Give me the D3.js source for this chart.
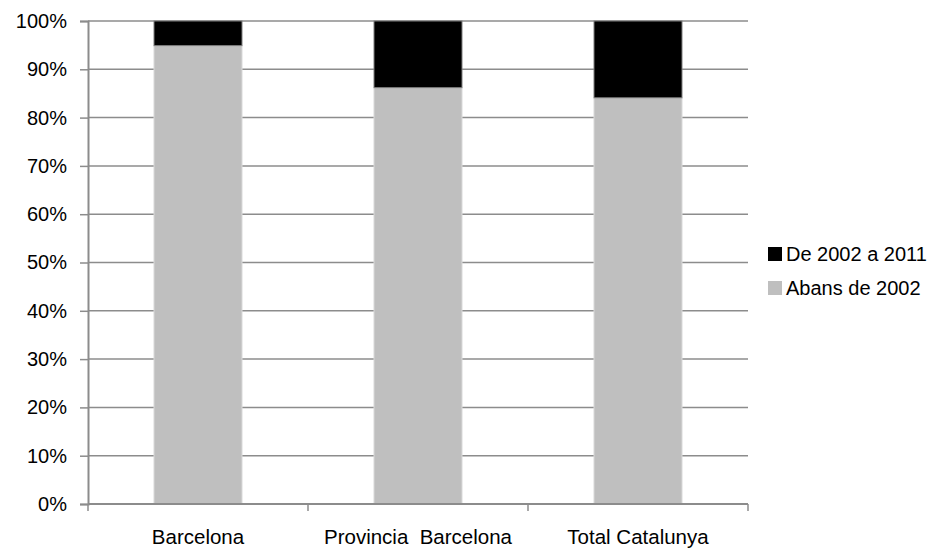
<!DOCTYPE html>
<html>
<head>
<meta charset="utf-8">
<script src="https://cdn.jsdelivr.net/npm/d3@7"></script>
<style>
  body { margin: 0; background: #fff; }
  text { font-family: "Liberation Sans", Arial, sans-serif; fill: #000; }
</style>
</head>
<body>
<div id="chart"></div>
<script>
const width = 934;
const height = 551;
const margin = { top: 21, right: 186, bottom: 47, left: 88 };

// data
const categories = ["Barcelona", "Provincia  Barcelona", "Total Catalunya"];
const abans = [94.9, 86.2, 84.1];
const de2002 = [5.1, 13.8, 15.9];
const seriesNames = ["Abans de 2002", "De 2002 a 2011"];
const seriesColors = ["#bfbfbf", "#000000"];
const yTicks = [0, 10, 20, 30, 40, 50, 60, 70, 80, 90, 100];

const rows = categories.map((c, i) => ({ cat: c, abans: abans[i], de2002: de2002[i] }));
const stack = d3.stack().keys(["abans", "de2002"])(rows);

const svg = d3.select("#chart")
  .append("svg")
  .attr("width", width)
  .attr("height", height);

const xScale = d3.scaleBand()
  .domain(categories)
  .range([margin.left, width - margin.right])
  .paddingInner(0.6)
  .paddingOuter(0.3);

const yScale = d3.scaleLinear()
  .domain([0, 100])
  .range([height - margin.bottom, margin.top]);

// gridlines
svg.append("g")
  .selectAll("line")
  .data(yTicks)
  .join("line")
  .attr("x1", margin.left)
  .attr("x2", width - margin.right)
  .attr("y1", d => yScale(d))
  .attr("y2", d => yScale(d))
  .attr("stroke", "#8c8c8c")
  .attr("stroke-width", 1.5);

// bars
svg.append("g")
  .selectAll("g")
  .data(stack)
  .join("g")
  .attr("fill", (d, i) => seriesColors[i])
  .attr("stroke", (d, i) => i === 0 ? "#d9d9d9" : "#7f7f7f")
  .attr("stroke-width", 1)
  .selectAll("rect")
  .data(d => d)
  .join("rect")
  .attr("x", d => xScale(d.data.cat))
  .attr("width", xScale.bandwidth())
  .attr("y", d => yScale(d[1]))
  .attr("height", d => yScale(d[0]) - yScale(d[1]));

// y axis
const yAxis = d3.axisLeft(yScale)
  .tickValues(yTicks)
  .tickFormat(d => d + "%")
  .tickSize(8)
  .tickPadding(13);

const yAxisGroup = svg.append("g")
  .attr("transform", `translate(${margin.left}, 0)`)
  .call(yAxis);
yAxisGroup.select(".domain").attr("stroke", "#8c8c8c").attr("stroke-width", 2);
yAxisGroup.selectAll(".tick line").attr("stroke", "#8c8c8c").attr("stroke-width", 1.5);
yAxisGroup.selectAll("text").attr("font-size", 20).attr("fill", "#000");

// x axis
const xAxisGroup = svg.append("g")
  .attr("transform", `translate(0, ${height - margin.bottom})`);
xAxisGroup.append("line")
  .attr("x1", margin.left)
  .attr("x2", width - margin.right)
  .attr("stroke", "#8c8c8c")
  .attr("stroke-width", 2);
const step = xScale.step();
const boundaries = d3.range(categories.length + 1).map(i => margin.left + i * step);
xAxisGroup.selectAll(".xtick")
  .data(boundaries)
  .join("line")
  .attr("class", "xtick")
  .attr("x1", d => d)
  .attr("x2", d => d)
  .attr("y1", 0)
  .attr("y2", 7)
  .attr("stroke", "#8c8c8c")
  .attr("stroke-width", 1.5);
xAxisGroup.selectAll(".xlabel")
  .data(categories)
  .join("text")
  .attr("class", "xlabel")
  .attr("x", d => xScale(d) + xScale.bandwidth() / 2)
  .attr("y", 40)
  .attr("text-anchor", "middle")
  .attr("font-size", 20.5)
  .style("white-space", "pre")
  .text(d => d);

// legend
const legendItems = [
  { name: seriesNames[1], color: seriesColors[1] },
  { name: seriesNames[0], color: seriesColors[0] }
];
const legend = svg.append("g")
  .attr("transform", "translate(768, 247)");
const li = legend.selectAll("g")
  .data(legendItems)
  .join("g")
  .attr("transform", (d, i) => `translate(0, ${i * 34})`);
li.append("rect")
  .attr("width", 14)
  .attr("height", 14)
  .attr("fill", d => d.color);
li.append("text")
  .attr("x", 18)
  .attr("y", 14)
  .attr("font-size", 20)
  .text(d => d.name);
</script>
</body>
</html>
